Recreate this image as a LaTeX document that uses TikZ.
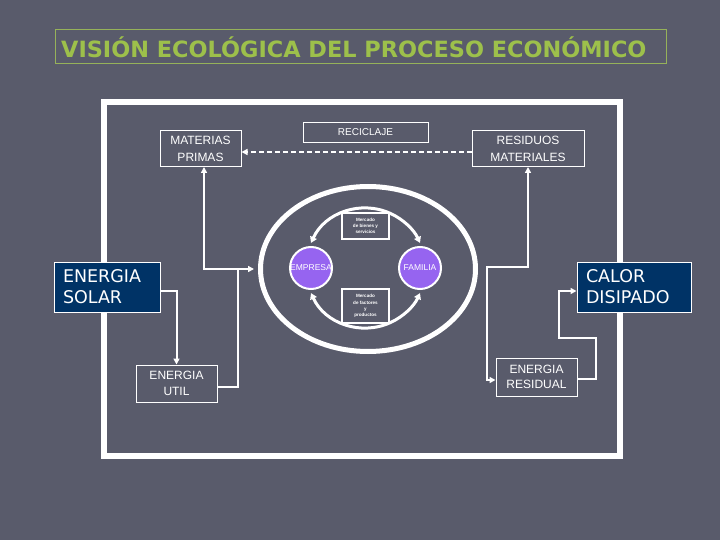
\documentclass[tikz,border=0pt]{standalone}
\usepackage{fontspec}
\setmainfont{Liberation Sans}
\newfontfamily\dv{DejaVu Sans}
\usetikzlibrary{shapes.geometric,arrows.meta}
\definecolor{bg}{RGB}{89,91,107}
\definecolor{dblue}{RGB}{0,51,102}
\definecolor{purp}{RGB}{150,100,240}
\definecolor{tgreen}{RGB}{157,192,75}
\definecolor{bgreen}{RGB}{150,178,90}
\tikzset{
  conn/.style={draw=white, line width=2pt, >={Triangle[length=6pt,width=6pt]}},
  pbox/.style={draw=white, line width=1pt, text=white, align=center, inner sep=0pt,
    font=\fontsize{12}{17}\selectfont},
  ebox/.style={pbox, font=\fontsize{12}{15.5}\selectfont},
  bluebox/.style={draw=white, line width=1pt, fill=dblue, text=white, align=left,
    inner xsep=9pt, inner ysep=0pt, font=\dv\fontsize{17.5}{21}\selectfont},
  disc/.style={circle, draw=white, line width=2pt, fill=purp, text=white, inner sep=0pt,
    minimum size=42pt, font=\fontsize{8.5}{9}\selectfont},
  mbox/.style={draw=white, line width=2pt, fill=bg, text=white, align=center, inner sep=0pt,
    font=\bfseries\fontsize{4.6}{6.2}\selectfont},
  arcline/.style={white, line width=3pt, {Triangle[length=6pt,width=7pt]}-{Triangle[length=6pt,width=7pt]}},
}
\begin{document}
\begin{tikzpicture}[x=1pt,y=-1pt]
\fill[bg] (0,0) rectangle (720,540);
\useasboundingbox (0,0) rectangle (720,540);
% title
\node[draw=bgreen, line width=1pt, minimum width=611pt, minimum height=34pt] (tbox) at (360.5,47) {};
\node[anchor=west, inner sep=0pt, text=tgreen, font=\dv\bfseries\fontsize{22.4}{24}\selectfont] (ttl) at (61,47) {VISIÓN ECOLÓGICA DEL PROCESO ECONÓMICO};
% frame
\draw[white, line width=6pt] (104,102) rectangle (620,456);
% top boxes
\node[pbox, minimum width=81pt, minimum height=36pt] (mat) at (200.5,148.5) {MATERIAS\\PRIMAS};
\node[pbox, minimum width=125pt, minimum height=20pt, font=\fontsize{10}{12}\selectfont] (rec) at (365.5,133) {\raisebox{1pt}{RECICLAJE}};
\node[pbox, minimum width=112pt, minimum height=36pt] (res) at (528,148.5) {RESIDUOS\\MATERIALES};
\draw[conn, ->, dashed, dash pattern=on 5pt off 3pt] ([yshift=-3.5pt]res.west) -- ([yshift=-3.5pt]mat.east);
% ecosystem ellipse
\node[ellipse, draw=white, line width=5pt, minimum width=215pt, minimum height=165pt, inner sep=0pt] (eco) at (368,269) {};
\node[disc] (emp) at (311,268) {EMPRESA};
\node[disc] (fam) at (420,268) {FAMILIA};
\coordinate (ctr) at (365.5,268);
\draw[arcline] (ctr) ++(155.3:60pt) arc[start angle=155.3, end angle=24.7, radius=60pt];
\draw[arcline] (ctr) ++(204.7:60pt) arc[start angle=204.7, end angle=335.3, radius=60pt];
\node[mbox, minimum width=47pt, minimum height=26pt] (mbs) at (365.5,226) {Mercado\\de bienes y\\servicios};
\node[mbox, minimum width=47pt, minimum height=34pt] (mfp) at (365.5,306) {Mercado\\de factores\\y\\productos};
% energy boxes
\node[bluebox, text width=88pt, minimum height=50pt] (sol) at (107,287) {ENERGIA\\SOLAR};
\node[bluebox, text width=96pt, minimum height=50pt] (cal) at (634,287) {CALOR\\DISIPADO};
\node[ebox, minimum width=81pt, minimum height=37pt] (util) at (176.5,383.5) {ENERGIA\\UTIL};
\node[ebox, minimum width=81pt, minimum height=38pt] (resid) at (536.5,377) {ENERGIA\\RESIDUAL};
% left connectors
\draw[conn, <->] ([xshift=3.5pt]mat.south) |- ([xshift=-4pt]eco.west);
\coordinate (jl) at (238,268);
\draw[conn] ([yshift=-3.5pt]util.east) -| (jl);
\draw[conn, ->] ([yshift=-4pt]sol.east) -| (util.north);
% right connectors
\coordinate (jr) at (487,267);
\draw[conn, <->] (res.south) |- (jr) |- ([yshift=-3pt]resid.west);
\coordinate (r1) at (596,338);
\coordinate (r2) at (559,338);
\draw[conn, ->] ([yshift=-2pt]resid.east) -| (r1) -- (r2) |- ([yshift=-4pt]cal.west);
\end{tikzpicture}
\end{document}
